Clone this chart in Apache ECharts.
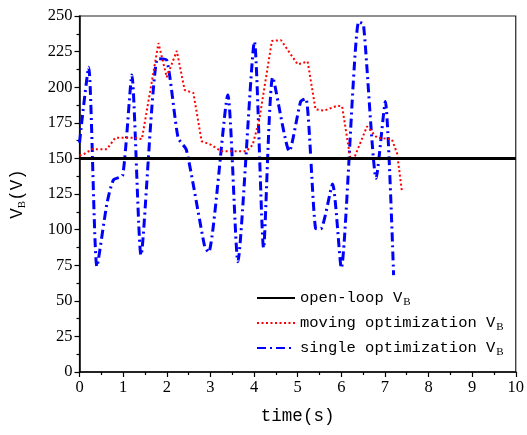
<!DOCTYPE html>
<html><head><meta charset="utf-8">
<script src="https://cdn.jsdelivr.net/npm/echarts@6/dist/echarts.min.js"></script>
<style>html,body{margin:0;padding:0;background:#fff}#c{width:527px;height:435px}</style>
</head><body><div id="c"></div>
<script>
var xTicks = [0,1,2,3,4,5,6,7,8,9,10];
var yTicks = [0,25,50,75,100,125,150,175,200,225,250];
var openT = [0, 10];
var openV = [150, 150];
var movT = [0,0.1,0.29,0.63,0.82,1.24,1.43,1.81,2.0,2.23,2.41,2.61,2.8,3.02,3.25,3.82,3.97,4.12,4.41,4.62,5.0,5.23,5.41,5.6,5.91,6.02,6.21,6.3,6.59,6.82,7.16,7.28,7.39];
var movV = [152,153,156.5,156.5,164.5,164.5,163.5,231,207,225.5,198,196,162,159.5,155,155,159.5,177,232.5,233,216,218,184.5,183.5,187,186.5,149.5,150.5,172.5,164.5,163.5,153.5,127];
var sinT = [0,0.21,0.4,0.63,0.78,0.99,1.2,1.41,1.79,2.0,2.26,2.45,2.87,2.96,3.4,3.63,4.01,4.22,4.43,4.81,5.07,5.19,5.41,5.53,5.8,6.0,6.4,6.51,6.8,7.01,7.2];
var sinV = [161,214,74,118.5,135,138,208.5,82,220,219,164.5,156,88,84,194.5,77.5,232,87,207,155,190,192,101,100.5,132,73,246,244,136,190,68];
var names = ['open-loop V','moving optimization V','single optimization V'];

function pairs(t, v){ return t.map(function(x,i){ return [x, v[i]]; }); }

var chart = echarts.init(document.getElementById('c'), null, {renderer:'canvas'});
var mono = 'Liberation Mono';
var serif = 'Liberation Serif';
chart.setOption({
  animation:false,
  grid:{left:77, right:11, top:16, bottom:63, show:true, borderColor:'#222', borderWidth:1.2, containLabel:false},
  legend:{
    orient:'vertical', left:251, top:285, itemWidth:38, itemHeight:12, itemGap:7,
    data:names,
    itemStyle:{opacity:0},
    formatter:function(n){ return '{a|'+n+'}{b|B}'; },
    textStyle:{rich:{
      a:{fontFamily:mono, fontSize:15.5, color:'#000'},
      b:{fontFamily:serif, fontSize:11, color:'#000', padding:[9,0,0,1]}
    }}
  },
  xAxis:{
    type:'value', min:0, max:10, interval:1,
    name:'time(s)', nameLocation:'middle', nameGap:35,
    nameTextStyle:{fontFamily:mono, fontSize:17.5, color:'#000'},
    axisLine:{lineStyle:{color:'#000', width:1.5}},
    axisTick:{inside:false, length:5, lineStyle:{color:'#000', width:1.2}},
    minorTick:{show:true, splitNumber:2, length:3, lineStyle:{color:'#000', width:1.2}},
    axisLabel:{fontFamily:serif, fontSize:16.5, color:'#000', margin:7,
      formatter:function(v){ return xTicks.indexOf(v)>=0 ? String(v) : ''; }},
    splitLine:{show:false}
  },
  yAxis:{
    type:'value', min:0, max:250, interval:25,
    name:'{a|V}{b|B}{a|(V)}', nameLocation:'middle', nameGap:52,
    nameTextStyle:{rich:{
      a:{fontFamily:mono, fontSize:17.5, color:'#000'},
      b:{fontFamily:serif, fontSize:11, color:'#000', padding:[10,0,0,0]}
    }},
    axisLine:{lineStyle:{color:'#000', width:1.5}},
    axisTick:{inside:false, length:5, lineStyle:{color:'#000', width:1.2}},
    minorTick:{show:true, splitNumber:2, length:3, lineStyle:{color:'#000', width:1.2}},
    axisLabel:{fontFamily:serif, fontSize:16.5, color:'#000', margin:7,
      formatter:function(v){ return yTicks.indexOf(v)>=0 ? String(v) : ''; }},
    splitLine:{show:false}
  },
  series:[
    {name:names[0], type:'line', symbol:'none', data:pairs(openT, openV),
     lineStyle:{color:'#000', width:3}, itemStyle:{color:'#000'}, z:3},
    {name:names[1], type:'line', symbol:'none', data:pairs(movT, movV),
     lineStyle:{color:'#ff0000', width:2, type:[2,2.5]}, itemStyle:{color:'#ff0000'}, z:2},
    {name:names[2], type:'line', symbol:'none', smooth:0.2, data:pairs(sinT, sinV),
     lineStyle:{color:'#0000ff', width:3, type:[9,4,2,4]}, itemStyle:{color:'#0000ff'}, z:1}
  ]
});
</script></body></html>
